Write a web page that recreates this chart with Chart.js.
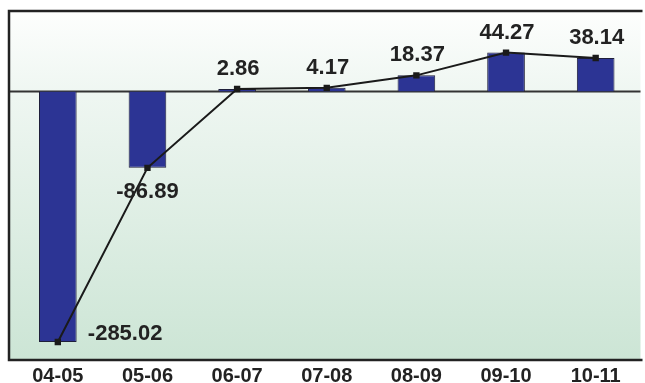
<!DOCTYPE html>
<html>
<head>
<meta charset="utf-8">
<script src="https://cdn.jsdelivr.net/npm/chart.js@4"></script>
<style>
  html, body { margin: 0; padding: 0; background: #fff; }
  canvas { display: block; }
</style>
</head>
<body>
<canvas id="myChart" width="645" height="383"></canvas>
<script>
(() => {
  'use strict'

  const years = ['04-05', '05-06', '06-07', '07-08', '08-09', '09-10', '10-11']
  const growth = [-285.02, -86.89, 2.86, 4.17, 18.37, 44.27, 38.14]
  const labelText = ['-285.02', '-86.89', '2.86', '4.17', '18.37', '44.27', '38.14']

  const FONT = '"Liberation Sans", Arial, sans-serif'

  const panel = {
    id: 'panel',
    beforeDatasetsDraw (chart) {
      const { ctx, chartArea: a, scales } = chart
      const left = a.left - 4
      const g = ctx.createLinearGradient(0, a.top, 0, a.bottom)
      g.addColorStop(0, '#fdfefd')
      g.addColorStop(0.25, '#eef6f1')
      g.addColorStop(1, '#cce5d5')
      ctx.save()
      ctx.fillStyle = g
      ctx.fillRect(left, a.top, a.right - left, a.bottom - a.top)
      const y0 = scales.y.getPixelForValue(0)
      ctx.strokeStyle = '#333'
      ctx.lineWidth = 2
      ctx.beginPath()
      ctx.moveTo(left, y0)
      ctx.lineTo(a.right, y0)
      ctx.stroke()
      ctx.restore()
    },
    afterDraw (chart) {
      const { ctx, chartArea: a } = chart
      const left = a.left - 4
      ctx.save()
      ctx.strokeStyle = '#222'
      ctx.lineWidth = 2.5
      ctx.beginPath()
      ctx.moveTo(a.right + 2, a.top)
      ctx.lineTo(left, a.top)
      ctx.lineTo(left, a.bottom)
      ctx.lineTo(a.right + 2, a.bottom)
      ctx.stroke()
      ctx.restore()
    }
  }

  const valueLabels = {
    id: 'valueLabels',
    afterDatasetsDraw (chart) {
      const { ctx } = chart
      const pts = chart.getDatasetMeta(1).data
      ctx.save()
      ctx.font = 'bold 22px ' + FONT
      ctx.fillStyle = '#222'
      ctx.textBaseline = 'middle'
      pts.forEach((p, i) => {
        const v = growth[i]
        if (i === 0) {
          ctx.textAlign = 'left'
          ctx.fillText(labelText[i], p.x + 30, p.y - 8)
        } else if (v < 0) {
          ctx.textAlign = 'center'
          ctx.fillText(labelText[i], p.x, p.y + 24)
        } else {
          ctx.textAlign = 'center'
          ctx.fillText(labelText[i], p.x + 1, p.y - 20)
        }
      })
      ctx.restore()
    }
  }

  const ctx = document.getElementById('myChart')
  new Chart(ctx, {
    data: {
      labels: years,
      datasets: [{
        type: 'bar',
        data: growth,
        backgroundColor: '#2c3494',
        borderColor: '#1f1f3a',
        borderWidth: 1,
        categoryPercentage: 1,
        barPercentage: 0.42,
        order: 1
      }, {
        type: 'line',
        data: growth,
        borderColor: '#1a1a1a',
        borderWidth: 2,
        tension: 0,
        pointStyle: 'rect',
        pointRadius: 4.5,
        pointBackgroundColor: '#1a1a1a',
        pointBorderColor: '#1a1a1a',
        pointBorderWidth: 0,
        order: 0
      }]
    },
    options: {
      responsive: false,
      animation: false,
      layout: { padding: { left: 13, right: 0, top: 11, bottom: 0 } },
      scales: {
        x: {
          grid: { display: false, drawTicks: false },
          border: { display: false },
          ticks: {
            padding: 4,
            color: '#222',
            font: { family: FONT, size: 20, weight: 'bold' }
          },
          afterFit (scale) { scale.height = 23 }
        },
        y: {
          display: false,
          min: -305.5,
          max: 91.6
        }
      },
      plugins: {
        legend: { display: false },
        tooltip: { enabled: false }
      }
    },
    plugins: [panel, valueLabels]
  })
})()
</script>
</body>
</html>
